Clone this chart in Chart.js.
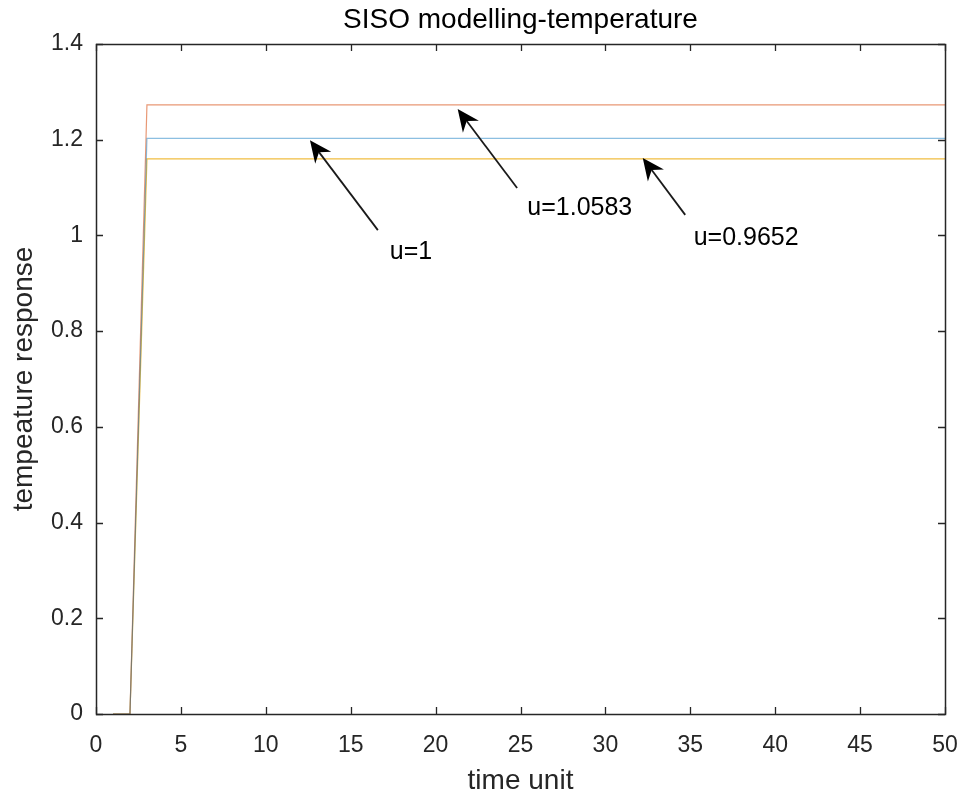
<!DOCTYPE html>
<html>
<head>
<meta charset="utf-8">
<title>SISO modelling-temperature</title>
<script src="https://cdn.jsdelivr.net/npm/chart.js@4/dist/chart.umd.min.js"></script>
<style>
  html, body { margin: 0; padding: 0; background: #ffffff; }
  #wrap { width: 963px; height: 800px; }
</style>
</head>
<body>
<div id="wrap"><canvas id="c" width="963" height="800"></canvas></div>
<script>
// Time samples 1..50
const timeSteps = [1,2,3,4,5,6,7,8,9,10,11,12,13,14,15,16,17,18,19,20,21,22,23,24,25,
  26,27,28,29,30,31,32,33,34,35,36,37,38,39,40,41,42,43,44,45,46,47,48,49,50];

// Temperature response for each input level (zero until the step at t=3)
const respU1 = [0,0,1.203,1.203,1.203,1.203,1.203,1.203,1.203,1.203,1.203,1.203,1.203,1.203,1.203,
  1.203,1.203,1.203,1.203,1.203,1.203,1.203,1.203,1.203,1.203,1.203,1.203,1.203,1.203,1.203,
  1.203,1.203,1.203,1.203,1.203,1.203,1.203,1.203,1.203,1.203,1.203,1.203,1.203,1.203,1.203,
  1.203,1.203,1.203,1.203,1.203];
const respU10583 = [0,0,1.273,1.273,1.273,1.273,1.273,1.273,1.273,1.273,1.273,1.273,1.273,1.273,1.273,
  1.273,1.273,1.273,1.273,1.273,1.273,1.273,1.273,1.273,1.273,1.273,1.273,1.273,1.273,1.273,
  1.273,1.273,1.273,1.273,1.273,1.273,1.273,1.273,1.273,1.273,1.273,1.273,1.273,1.273,1.273,
  1.273,1.273,1.273,1.273,1.273];
const respU09652 = [0,0,1.160,1.160,1.160,1.160,1.160,1.160,1.160,1.160,1.160,1.160,1.160,1.160,1.160,
  1.160,1.160,1.160,1.160,1.160,1.160,1.160,1.160,1.160,1.160,1.160,1.160,1.160,1.160,1.160,
  1.160,1.160,1.160,1.160,1.160,1.160,1.160,1.160,1.160,1.160,1.160,1.160,1.160,1.160,1.160,
  1.160,1.160,1.160,1.160,1.160];

// Axis ticks
const xTicks = [0,5,10,15,20,25,30,35,40,45,50];
const yTicks = [0,0.2,0.4,0.6,0.8,1,1.2,1.4];

// Arrow annotations: label, tail (x,y) and tip (x,y) in data units, label anchor
const arrowLabels = ['u=1', 'u=1.0583', 'u=0.9652'];
const arrowTail = [[16.6, 1.011], [24.8, 1.099], [34.7, 1.043]];
const arrowTip  = [[12.6, 1.199], [21.3, 1.264], [32.2, 1.162]];
const labelPos  = [[17.3, 0.965], [25.4, 1.057], [35.2, 0.995]];

const chartTitle = 'SISO modelling-temperature';

const FONT = 'Liberation Sans, Arial, Helvetica, sans-serif';

function toXY(xs, ys) { return xs.map((x, i) => ({ x: x, y: ys[i] })); }

// Title centred over the axes box
const axesTitle = {
  id: 'axesTitle',
  afterDraw(chart) {
    const { ctx, chartArea: a } = chart;
    ctx.save();
    ctx.fillStyle = '#000';
    ctx.font = '28px ' + FONT;
    ctx.textAlign = 'center';
    ctx.textBaseline = 'middle';
    ctx.fillText(chartTitle, (a.left + a.right) / 2, a.top - 24);
    ctx.restore();
  }
};

// Inward tick marks on all four sides of the axes box
const boxTicks = {
  id: 'boxTicks',
  afterDatasetsDraw(chart) {
    const { ctx, chartArea: a, scales: { x, y } } = chart;
    const len = 7;
    ctx.save();
    ctx.strokeStyle = '#262626';
    ctx.lineWidth = 1.3;
    ctx.beginPath();
    xTicks.forEach(v => {
      const px = Math.round(x.getPixelForValue(v)) + 0.5;
      ctx.moveTo(px, a.bottom); ctx.lineTo(px, a.bottom - len);
      ctx.moveTo(px, a.top); ctx.lineTo(px, a.top + len);
    });
    yTicks.forEach(v => {
      const py = Math.round(y.getPixelForValue(v)) + 0.5;
      ctx.moveTo(a.left, py); ctx.lineTo(a.left + len, py);
      ctx.moveTo(a.right, py); ctx.lineTo(a.right - len, py);
    });
    ctx.stroke();
    // box outline
    ctx.lineWidth = 1.5;
    ctx.strokeRect(Math.round(a.left) + 0.5, Math.round(a.top) + 0.5,
      Math.round(a.right - a.left), Math.round(a.bottom - a.top));
    ctx.restore();
  }
};

// Text arrows pointing at the steady-state levels
const textArrows = {
  id: 'textArrows',
  afterDatasetsDraw(chart) {
    const { ctx, scales: { x, y } } = chart;
    ctx.save();
    arrowLabels.forEach((label, i) => {
      const x0 = x.getPixelForValue(arrowTail[i][0]);
      const y0 = y.getPixelForValue(arrowTail[i][1]);
      const x1 = x.getPixelForValue(arrowTip[i][0]);
      const y1 = y.getPixelForValue(arrowTip[i][1]);
      const ang = Math.atan2(y1 - y0, x1 - x0);
      const headLen = 22, headW = 10, notch = 15;
      const ux = Math.cos(ang), uy = Math.sin(ang);
      const nx = -uy, ny = ux;
      // shaft
      ctx.strokeStyle = '#1a1a1a';
      ctx.lineWidth = 1.8;
      ctx.beginPath();
      ctx.moveTo(x0, y0);
      ctx.lineTo(x1 - ux * notch, y1 - uy * notch);
      ctx.stroke();
      // head (swept back)
      ctx.fillStyle = '#000';
      ctx.beginPath();
      ctx.moveTo(x1, y1);
      ctx.lineTo(x1 - ux * headLen + nx * headW, y1 - uy * headLen + ny * headW);
      ctx.lineTo(x1 - ux * notch, y1 - uy * notch);
      ctx.lineTo(x1 - ux * headLen - nx * headW, y1 - uy * headLen - ny * headW);
      ctx.closePath();
      ctx.fill();
      // label
      ctx.fillStyle = '#000';
      ctx.font = '25px ' + FONT;
      ctx.textAlign = 'left';
      ctx.textBaseline = 'middle';
      ctx.fillText(label, x.getPixelForValue(labelPos[i][0]), y.getPixelForValue(labelPos[i][1]));
    });
    ctx.restore();
  }
};

const lineStyle = { borderWidth: 1.2, pointRadius: 0, tension: 0, fill: false };

new Chart(document.getElementById('c'), {
  type: 'line',
  data: {
    datasets: [
      Object.assign({ label: 'u=1', data: toXY(timeSteps, respU1), borderColor: 'rgba(0,114,189,0.45)' }, lineStyle),
      Object.assign({ label: 'u=1.0583', data: toXY(timeSteps, respU10583), borderColor: 'rgba(217,83,25,0.6)' }, lineStyle),
      Object.assign({ label: 'u=0.9652', data: toXY(timeSteps, respU09652), borderColor: 'rgba(237,177,32,0.85)' }, lineStyle)
    ]
  },
  options: {
    responsive: false,
    animation: false,
    layout: { padding: { left: 0, right: 18, top: 44, bottom: 0 } },
    plugins: {
      legend: { display: false },
      tooltip: { enabled: false },
      title: { display: false }
    },
    scales: {
      x: {
        type: 'linear',
        min: 0, max: 50,
        afterBuildTicks(axis) { axis.ticks = xTicks.map(v => ({ value: v })); },
        afterFit(axis) { axis.height = 86; axis.paddingLeft = 0; axis.paddingRight = 0; },
        grid: { display: false, drawTicks: false },
        border: { display: false },
        ticks: { color: '#262626', padding: 18, maxRotation: 0, autoSkip: false,
          font: { family: FONT, size: 23 } },
        title: { display: true, text: 'time unit', color: '#262626',
          font: { family: FONT, size: 28 }, padding: { top: 0, bottom: 2 } }
      },
      y: {
        type: 'linear',
        min: 0, max: 1.4,
        afterBuildTicks(axis) { axis.ticks = yTicks.map(v => ({ value: v })); },
        afterFit(axis) { axis.width = 96; axis.paddingTop = 0; axis.paddingBottom = 0; },
        grid: { display: false, drawTicks: false },
        border: { display: false },
        ticks: { color: '#262626', padding: 13, autoSkip: false,
          font: { family: FONT, size: 23 },
          callback: v => String(Math.round(v * 10) / 10) },
        title: { display: true, text: 'tempeature response', color: '#262626',
          font: { family: FONT, size: 28 }, padding: { top: 7, bottom: 0 } }
      }
    }
  },
  plugins: [boxTicks, textArrows, axesTitle]
});
</script>
</body>
</html>
